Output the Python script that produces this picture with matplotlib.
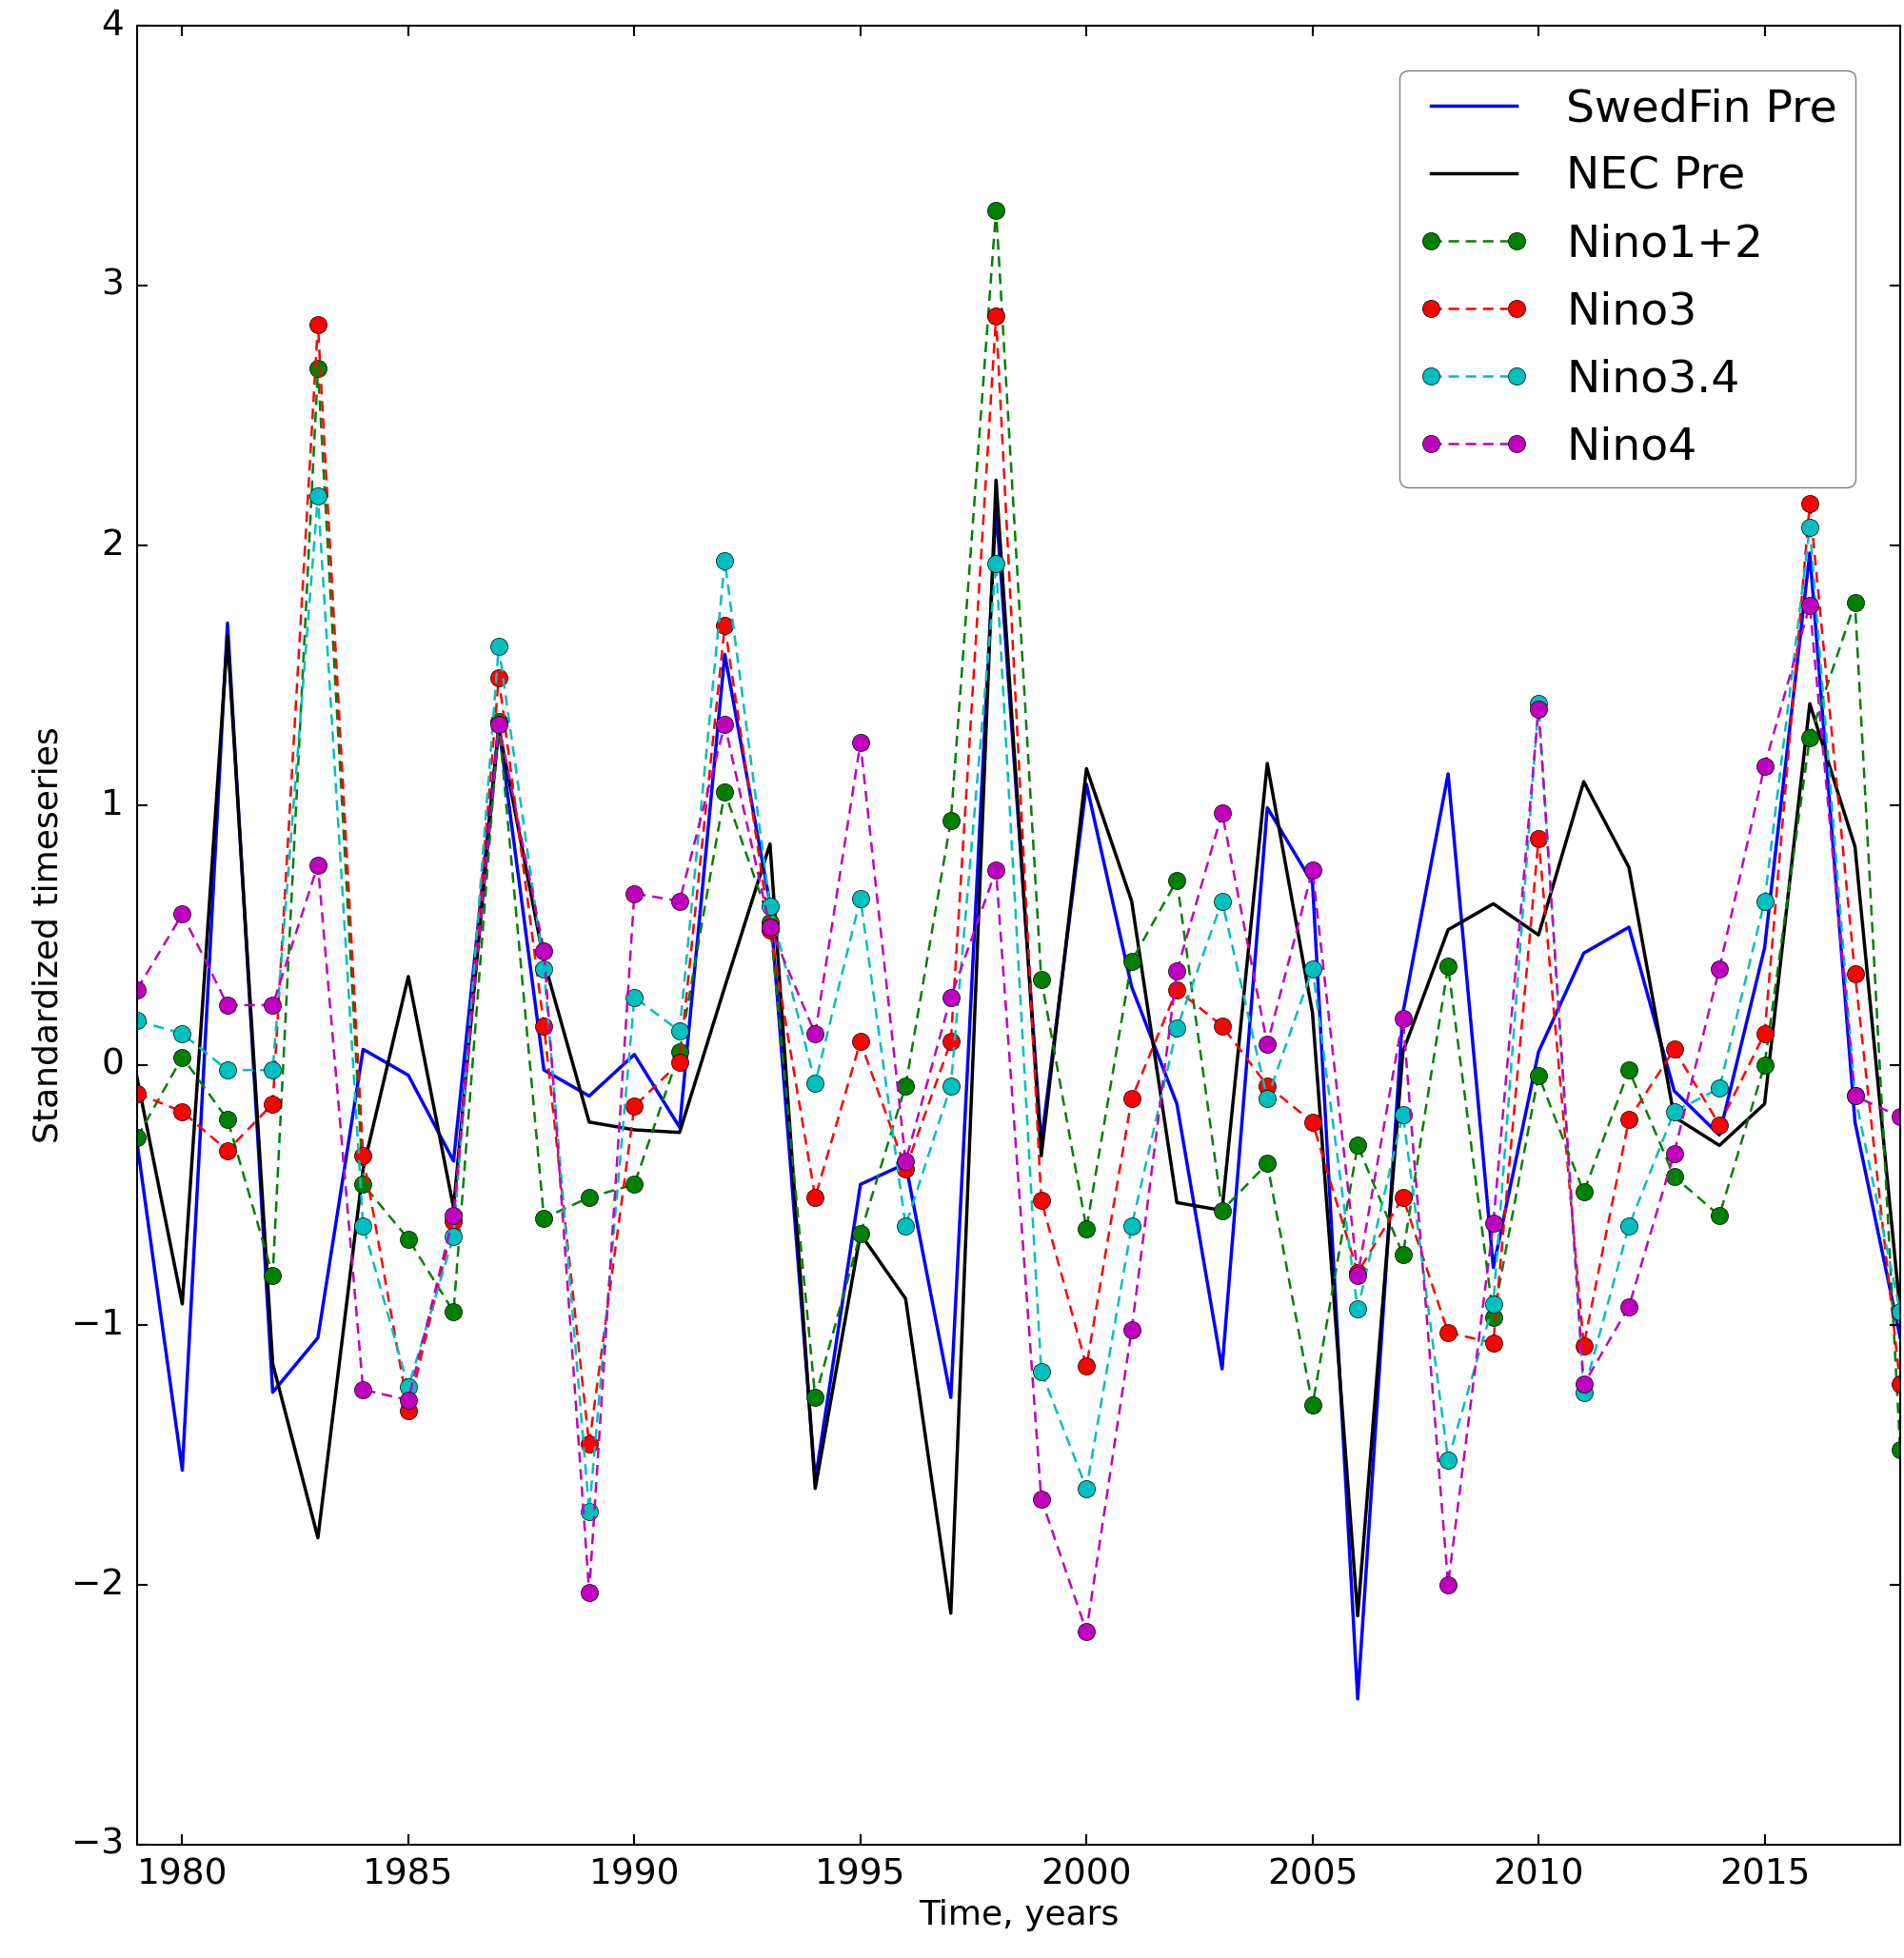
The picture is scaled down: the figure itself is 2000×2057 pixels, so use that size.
import matplotlib
matplotlib.use('Agg')
import matplotlib.pyplot as plt
import numpy as np

plt.style.use('classic')

years = np.arange(1979, 2019)

swedfin = [-0.30, -1.56, 1.70, -1.26, -1.05, 0.06, -0.04, -0.37, 1.30, -0.02,
           -0.12, 0.04, -0.24, 1.58, 0.62, -1.60, -0.46, -0.38, -1.28, 2.15,
           -0.30, 1.08, 0.30, -0.15, -1.17, 0.99, 0.70, -2.44, 0.20, 1.12,
           -0.78, 0.05, 0.43, 0.53, -0.10, -0.27, 0.45, 1.97, -0.22, -1.05]
nec = [-0.05, -0.92, 1.65, -1.15, -1.82, -0.40, 0.34, -0.55, 1.30, 0.40,
       -0.22, -0.25, -0.26, 0.30, 0.85, -1.63, -0.65, -0.90, -2.11, 2.25,
       -0.35, 1.14, 0.63, -0.53, -0.56, 1.16, 0.20, -2.12, 0.05, 0.52,
       0.62, 0.50, 1.09, 0.76, -0.20, -0.31, -0.15, 1.39, 0.84, -0.95]
nino12 = [-0.28, 0.03, -0.21, -0.81, 2.68, -0.46, -0.67, -0.95, 1.32, -0.59,
          -0.51, -0.46, 0.05, 1.05, 0.55, -1.28, -0.65, -0.08, 0.94, 3.29,
          0.33, -0.63, 0.40, 0.71, -0.56, -0.38, -1.31, -0.31, -0.73, 0.38,
          -0.97, -0.04, -0.49, -0.02, -0.43, -0.58, 0.00, 1.26, 1.78, -1.48]
nino3 = [-0.11, -0.18, -0.33, -0.15, 2.85, -0.35, -1.33, -0.60, 1.49, 0.15,
         -1.46, -0.16, 0.01, 1.69, 0.52, -0.51, 0.09, -0.40, 0.09, 2.88,
         -0.52, -1.16, -0.13, 0.29, 0.15, -0.08, -0.22, -0.80, -0.51, -1.03,
         -1.07, 0.87, -1.08, -0.21, 0.06, -0.23, 0.12, 2.16, 0.35, -1.23]
nino34 = [0.17, 0.12, -0.02, -0.02, 2.19, -0.62, -1.24, -0.66, 1.61, 0.37,
          -1.72, 0.26, 0.13, 1.94, 0.61, -0.07, 0.64, -0.62, -0.08, 1.93,
          -1.18, -1.63, -0.62, 0.14, 0.63, -0.13, 0.37, -0.94, -0.19, -1.52,
          -0.92, 1.39, -1.26, -0.62, -0.18, -0.09, 0.63, 2.07, -0.12, -0.95]
nino4 = [0.29, 0.58, 0.23, 0.23, 0.77, -1.25, -1.29, -0.58, 1.31, 0.44,
         -2.03, 0.66, 0.63, 1.31, 0.53, 0.12, 1.24, -0.37, 0.26, 0.75,
         -1.67, -2.18, -1.02, 0.36, 0.97, 0.08, 0.75, -0.81, 0.18, -2.00,
         -0.61, 1.37, -1.23, -0.93, -0.34, 0.37, 1.15, 1.77, -0.12, -0.20]

fig = plt.figure(figsize=(20, 20.57), dpi=100, facecolor='white')
ax = fig.add_axes([0.072, 0.058, 0.926, 0.929])

ax.plot(years, swedfin, color='b', lw=2.5, label='SwedFin Pre')
ax.plot(years, nec, color='k', lw=2.5, label='NEC Pre')
for vals, c, lab in [(nino12, 'g', 'Nino1+2'), (nino3, 'r', 'Nino3'),
                     (nino34, 'c', 'Nino3.4'), (nino4, 'm', 'Nino4')]:
    ax.plot(years, vals, '--o', color=c, markerfacecolor=c, markeredgecolor='k',
            markersize=13, lw=1.8, dashes=(8, 5), label=lab)

ax.set_xlim(1979, 2018)
ax.set_ylim(-3, 4)
ax.set_xticks(np.arange(1980, 2016, 5))
ax.get_xaxis().get_major_formatter().set_useOffset(False)
ax.tick_params(labelsize=27, length=8, width=1.5, pad=10)
ax.set_xlabel('Time, years', fontsize=26)
ax.set_ylabel('Standardized timeseries', fontsize=26)
for s in ax.spines.values():
    s.set_linewidth(1.5)
leg = ax.legend(loc='upper right', fontsize=34, numpoints=2, framealpha=0.5,
                fancybox=True, handlelength=2.5, labelspacing=0.55,
                borderaxespad=1.0)
leg.set_zorder(10)

fig.savefig('out.png', dpi=100, facecolor='white')
